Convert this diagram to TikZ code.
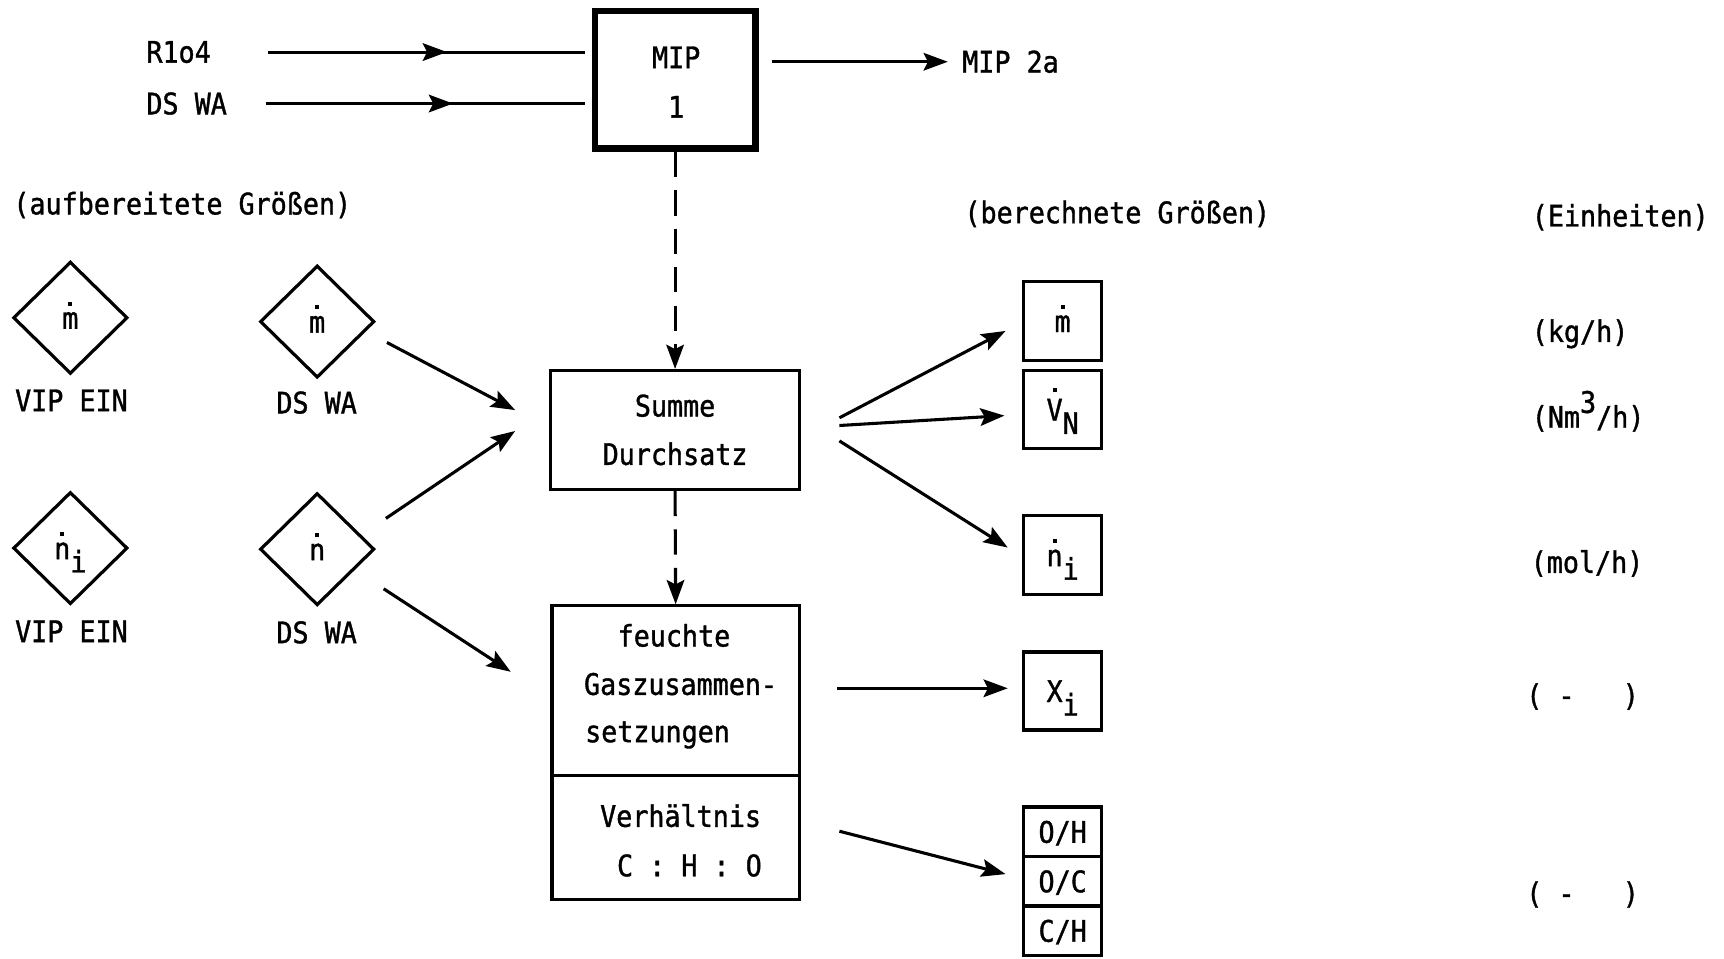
\documentclass[tikz,border=0pt]{standalone}
\usepackage{fontspec}
\setmainfont{DejaVu Sans Mono}[FakeStretch=0.9, FakeBold=1.2]
\usetikzlibrary{arrows.meta,shapes.geometric,decorations.markings}

% dot placed over a letter (time derivative)
\newcommand\overdot[2][0.78em]{\ooalign{\hfil\raisebox{#1}{\rule{3.6pt}{3.6pt}}\hfil\cr#2\cr}}
\newcommand\lowsub[1]{\raisebox{-0.45em}{#1}}
\newcommand\highsup[1]{\raisebox{0.5em}{#1}}

\begin{document}
\begin{tikzpicture}[x=1pt,y=-1pt,
  every node/.style={font=\fontsize{27}{45}\selectfont, inner sep=0pt},
  txt/.style={anchor=base west},
  ctxt/.style={anchor=base},
  box/.style={draw, rectangle, line width=2.9pt, text height=20pt, text depth=0pt},
  outbox/.style={box, minimum width=71pt},
  mipbox/.style={draw, rectangle, line width=6pt},
  diam/.style={draw, diamond, line width=2.9pt, minimum width=104pt,
    minimum height=102pt, text height=20pt, text depth=0pt},
  >={Stealth[length=22pt,width=16pt,inset=4pt]},
  flow/.style={line width=2.8pt, ->},
  dflow/.style={flow, dash pattern=on 23pt off 12pt},
  midflow/.style={line width=2.8pt, postaction={decorate},
    decoration={markings, mark=at position 0.62 with
      {\arrow{Stealth[length=22pt,width=16pt,inset=4pt]}}}}
]
\useasboundingbox (0,0) rectangle (1568,872);

% ---- inputs to MIP 1
\node[txt] (r104) at (133,57) {R1o4};
\node[txt] (dswa) at (133,104) {DS WA};
\node[mipbox, minimum width=146pt, minimum height=125pt] (mip) at (614,72.5) {};
\node[ctxt] (mipa) at (615,62) {MIP};
\node[ctxt] (mipb) at (615,107) {1};
\node[txt] (mip2a) at (875,66) {MIP 2a};

\draw[midflow, shorten <=52pt, shorten >=6pt] (r104.east) -- (r104.east -| mip.west);
\draw[midflow, shorten <=35pt, shorten >=6pt] (dswa.east) -- (dswa.east -| mip.west);
\draw[flow, shorten <=12pt, shorten >=13pt] (mip.east |- mip2a.west) -- (mip2a.west);

% ---- column headings
\node[txt] (hauf) at (12,195) {(aufbereitete Größen)};
\node[txt] (hber) at (877,203) {(berechnete Größen)};
\node[txt] (hein) at (1393,206) {(Einheiten)};

% ---- prepared quantities (diamonds)
\node[diam] (vm) at (64,289) {\overdot{m}};
\node[diam] (dm) at (288.5,292.5) {\overdot{m}};
\node[diam] (vn) at (64,498.5) {\overdot{n}\lowsub{i}};
\node[diam] (dn) at (288.5,499.5) {\overdot{n}};
\node[ctxt] (lvm) at (65,374) {VIP EIN};
\node[ctxt] (ldm) at (288,376) {DS WA};
\node[ctxt] (lvn) at (65,584) {VIP EIN};
\node[ctxt] (ldn) at (288,585) {DS WA};

% ---- processing blocks
\node[draw, rectangle, line width=2.9pt, minimum width=226pt, minimum height=108pt,
  align=center, font=\fontsize{27}{44}\selectfont] (summe) at (614,391) {Summe\\Durchsatz};
\node[draw, rectangle, line width=2.9pt, minimum width=225pt, minimum height=267pt]
  (feuchte) at (614.5,684.5) {};
\draw[line width=2.9pt] (feuchte.west |- 0,705) -- (feuchte.east |- 0,705);
\node[ctxt] (tfeu) at (613,588) {feuchte};
\node[txt] (tgas) at (531,632) {Gaszusammen-};
\node[txt] (tset) at (532,675) {setzungen};
\node[ctxt] (tver) at (619,752) {Verhältnis};
\node[txt] (tcho) at (561,797) {C : H : O};

\draw[dflow] (mip.south) -- (summe.north);
\draw[dflow] (summe.south) -- (feuchte.north);

% ---- computed quantities
\node[outbox, minimum height=72pt] (om) at (966.5,292) {\overdot{m}};
\node[outbox, minimum height=71pt] (ov) at (966.5,372.5) {\overdot[0.95em]{V}\lowsub{N}};
\node[outbox, minimum height=72pt] (on) at (966.5,505) {\overdot{n}\lowsub{i}};
\node[outbox, minimum height=71pt] (ox) at (966.5,628.5) {X\lowsub{i}};
\node[outbox, minimum height=45pt] (ooh) at (966.5,756.5) {O/H};
\node[outbox, minimum height=45pt] (ooc) at (966.5,801.5) {O/C};
\node[outbox, minimum height=45pt] (och) at (966.5,846.5) {C/H};

% ---- units
\node[txt] (ukg) at (1393,311) {(kg/h)};
\node[txt] (unm) at (1393,389) {(Nm\highsup{3}/h)};
\node[txt] (umo) at (1392,521) {(mol/h)};
\node[txt] (ux) at (1388,642) {(~-~~~)};
\node[txt] (ur) at (1388,822) {(~-~~~)};

% ---- connectors
\draw[flow] ([shift={(10,19)}]dm.east) -- ([shift={(-31,-18)}]summe.west);
\draw[flow] ([shift={(9,-28)}]dn.east) -- ([shift={(-31,1)}]summe.west);
\draw[flow] ([shift={(7,36)}]dn.east) -- ([shift={(-36,-73.5)}]feuchte.west);

\draw[flow] ([shift={(35,-11)}]summe.east) -- ([shift={(-15,9)}]om.west);
\draw[flow] ([shift={(35,-4)}]summe.east) -- ([shift={(-16,5.5)}]ov.west);
\draw[flow] ([shift={(35,10)}]summe.east) -- ([shift={(-13,-7)}]on.west);
\draw[flow] ([shift={(33,-58.5)}]feuchte.east) -- ([shift={(-13,-2.5)}]ox.west);
\draw[flow] ([shift={(35,71.5)}]feuchte.east) -- ([shift={(-15,-6.5)}]ooc.west);
\end{tikzpicture}
\end{document}
